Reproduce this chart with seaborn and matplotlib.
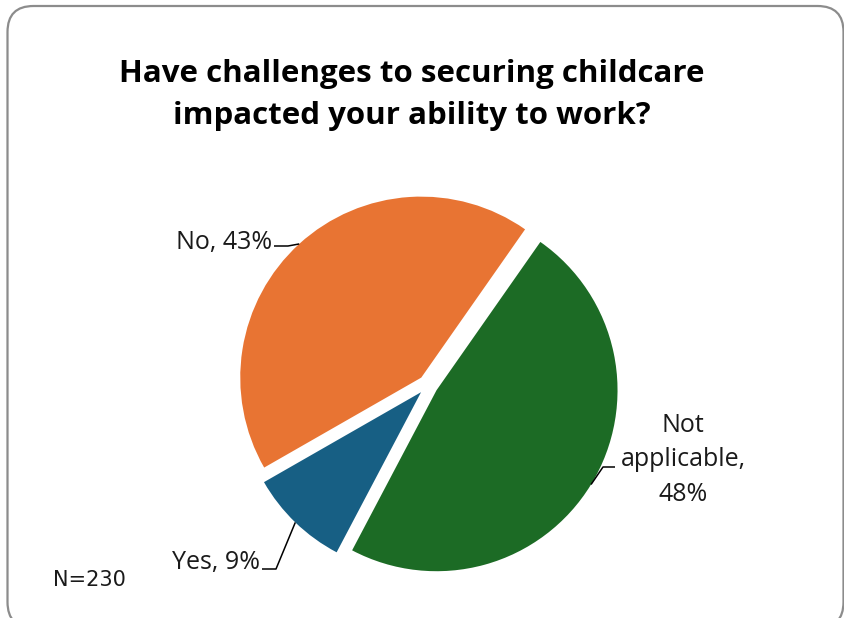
import numpy as np
import matplotlib
matplotlib.use("Agg")
import matplotlib.pyplot as plt
from matplotlib.patches import FancyBboxPatch
import seaborn as sns

sns.set_theme(style="white")
plt.rcParams["font.family"] = ["Open Sans", "DejaVu Sans"]

# Survey responses (share of respondents, %)
categories = ["Not applicable", "Yes", "No"]
values = [48, 9, 43]
colors = ["#1C6B25", "#175F84", "#E87433"]
title = "Have challenges to securing childcare\nimpacted your ability to work?"
sample_note = "N=230"

W, H = 844, 618
fig = plt.figure(figsize=(W / 100, H / 100), dpi=100)
ax = fig.add_axes([0, 0, 1, 1])

# Rounded chart-area frame (bottom edge falls just below the canvas)
frame = FancyBboxPatch((7.5, H - 628), 836, 622, boxstyle="round,pad=0,rounding_size=26",
                       transform=ax.transData, facecolor="white", edgecolor="#8C8C8C",
                       linewidth=1.6, zorder=0)
ax.add_patch(frame)

radius = 181
center = (428, H - 385)
explode_gap = 10  # pie explode is in data units (pixels here)
wedges, _ = ax.pie(values, colors=colors, startangle=55, counterclock=False,
                   radius=radius, center=center,
                   explode=[explode_gap] * len(values),
                   wedgeprops=dict(linewidth=0), frame=True)
ax.set_xlim(0, W)
ax.set_ylim(0, H)
ax.set_aspect("equal")
ax.axis("off")

label_font = dict(fontsize=18, color="#1a1a1a")
# label text anchor (pixels from top-left), alignment, leader start and elbow
label_layout = {
    "No": dict(xy=(272, 242), ha="right", start=(274, 246), elbow=(288, 246)),
    "Yes": dict(xy=(260, 563), ha="right", start=(262, 569), elbow=(276, 569)),
    "Not applicable": dict(xy=(683, 460), ha="center", start=(615, 467), elbow=(603, 467)),
}

for w, cat, val in zip(wedges, categories, values):
    mid = np.deg2rad((w.theta1 + w.theta2) / 2)
    cx, cy = w.center
    anchor = (cx + w.r * np.cos(mid), cy + w.r * np.sin(mid))
    lay = label_layout[cat]
    tx, ty = lay["xy"]
    text = f"Not\napplicable,\n{val}%" if cat == "Not applicable" else f"{cat}, {val}%"
    ax.text(tx, H - ty, text, ha=lay["ha"], va="center", linespacing=1.52, **label_font)
    sx, sy = lay["start"]
    ex, ey = lay["elbow"]
    ax.plot([sx, ex, anchor[0]], [H - sy, H - ey, anchor[1]], color="black", linewidth=1.1,
            solid_capstyle="butt")

ax.text(W / 2 - 10, H - 95, title, ha="center", va="center", fontsize=22.5, fontweight="bold",
        color="black", linespacing=1.5)
ax.text(53, H - 580, sample_note, ha="left", va="center", fontsize=15,
        family=["DejaVu Sans"], color="#1a1a1a")

fig.savefig("out.png", dpi=100, facecolor="white")
